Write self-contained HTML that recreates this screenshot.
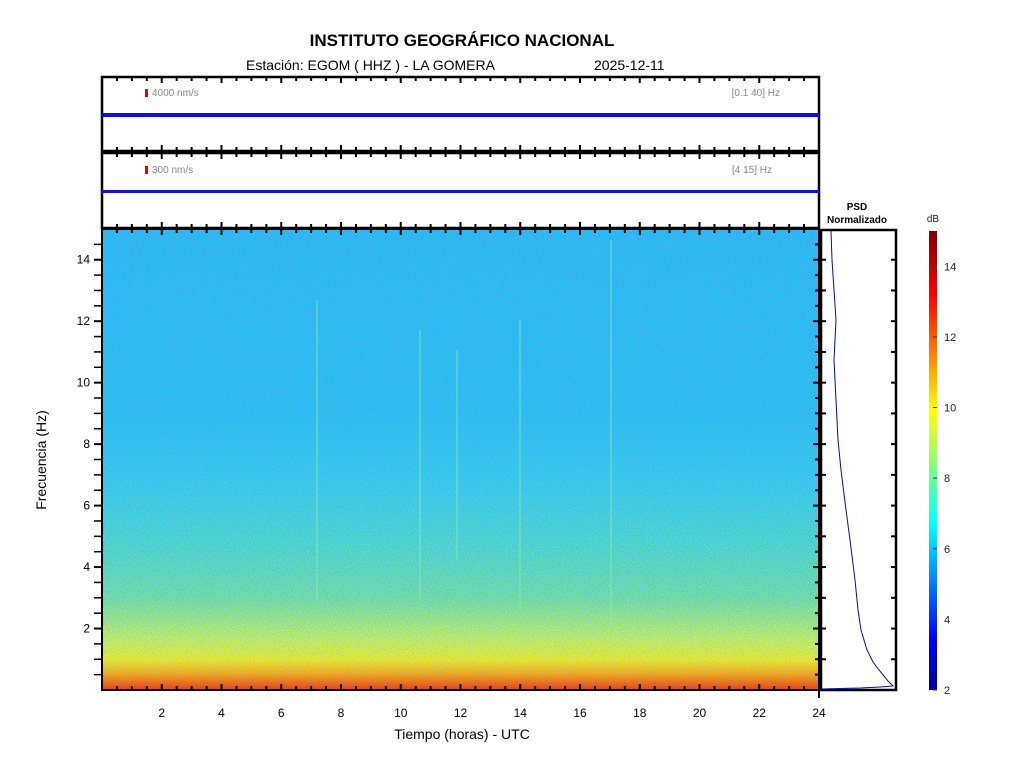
<!DOCTYPE html>
<html><head><meta charset="utf-8"><style>
body{margin:0;background:#fff;}
svg{display:block;font-family:"Liberation Sans",Arial,sans-serif;}
</style></head><body>
<svg id="s" width="1024" height="768" viewBox="0 0 1024 768" xmlns="http://www.w3.org/2000/svg">
<defs>
<linearGradient id="sg" x1="0" y1="1" x2="0" y2="0">
<stop offset="0" stop-color="#f03a10"/>
<stop offset="0.015" stop-color="#f46a10"/>
<stop offset="0.035" stop-color="#f8a818"/>
<stop offset="0.065" stop-color="#f0ec28"/>
<stop offset="0.11" stop-color="#c8f060"/>
<stop offset="0.2" stop-color="#78e2a0"/>
<stop offset="0.32" stop-color="#50dcc8"/>
<stop offset="0.45" stop-color="#38d0ec"/>
<stop offset="0.6" stop-color="#28c4f0"/>
<stop offset="1" stop-color="#24c0f2"/>
</linearGradient>
<linearGradient id="cb" x1="0" y1="1" x2="0" y2="0">
<stop offset="0" stop-color="#00008f"/>
<stop offset="0.11" stop-color="#0000ff"/>
<stop offset="0.36" stop-color="#00ffff"/>
<stop offset="0.61" stop-color="#ffff00"/>
<stop offset="0.86" stop-color="#ff0000"/>
<stop offset="1" stop-color="#800000"/>
</linearGradient>
<linearGradient id="nm" x1="0" y1="1" x2="0" y2="0">
<stop offset="0" stop-color="#fff" stop-opacity="0.2"/>
<stop offset="0.3" stop-color="#fff" stop-opacity="0.6"/>
<stop offset="1" stop-color="#fff" stop-opacity="1"/>
</linearGradient>
<mask id="mk"><rect x="102" y="229" width="717" height="461" fill="url(#nm)"/></mask>
<filter id="nz" x="0" y="0" width="100%" height="100%">
<feTurbulence type="fractalNoise" baseFrequency="0.95" numOctaves="1" seed="3"/>
<feColorMatrix values="0 0 0 0 0.06  0 0 0 0 0.38  0 0 0 0 0.85  3.5 0 0 0 -1.45"/>
</filter>
</defs>
<text x="462" y="46" font-size="17" font-weight="bold" text-anchor="middle">INSTITUTO GEOGRÁFICO NACIONAL</text>
<text x="246" y="70" font-size="14">Estación:  EGOM ( HHZ ) - LA GOMERA</text>
<text x="594" y="70" font-size="14">2025-12-11</text>
<rect x="102" y="77" width="717" height="74" fill="#fff" stroke="#000" stroke-width="2.5"/>
<rect x="102" y="153" width="717" height="75" fill="#fff" stroke="#000" stroke-width="2.5"/>
<rect x="145" y="89" width="3" height="8" fill="#e00"/>
<text x="152" y="96" font-size="10" fill="#888">4000 nm/s</text>
<text x="780" y="96" font-size="10" fill="#888" text-anchor="end">[0.1 40] Hz</text>
<rect x="102" y="113" width="717" height="4" fill="#1010e0"/>
<rect x="145" y="166" width="3" height="8" fill="#e00"/>
<text x="152" y="173" font-size="10" fill="#888">300 nm/s</text>
<text x="772" y="173" font-size="10" fill="#888" text-anchor="end">[4 15] Hz</text>
<rect x="102" y="190" width="717" height="3" fill="#1010e0"/>
<rect x="102" y="229" width="717" height="461" fill="url(#sg)"/>
<g mask="url(#mk)"><rect x="102" y="229" width="717" height="461" filter="url(#nz)"/></g>
<g stroke="#a0f0a0" stroke-width="2" opacity="0.35">
<line x1="317" y1="300" x2="317" y2="600"/><line x1="420" y1="330" x2="420" y2="600"/>
<line x1="520" y1="320" x2="520" y2="610"/><line x1="611" y1="240" x2="611" y2="620"/>
<line x1="457" y1="350" x2="457" y2="560"/>
</g>
<rect x="102" y="229" width="717" height="461" fill="none" stroke="#000" stroke-width="2"/>
<text x="857" y="210" font-size="10" font-weight="bold" text-anchor="middle">PSD</text>
<text x="857" y="223" font-size="10" font-weight="bold" text-anchor="middle">Normalizado</text>
<rect x="821" y="230" width="75" height="460" fill="#fff" stroke="#000" stroke-width="2.5"/>
<polyline fill="none" stroke="#0010a0" stroke-width="1" points="831,231 832,260 834,290 836,320 834,360 836,400 838,440 841,470 846,510 850,540 855,580 858,610 861,630 867,650 873,662 879,670 884,676 888,681 893,686 880,687 860,688 821,689"/>
<rect x="929" y="231" width="8" height="459" fill="url(#cb)"/>
<text x="933" y="222" font-size="10" text-anchor="middle" fill="#222">dB</text>
<g id="g"></g>
<text x="462" y="739" font-size="14" text-anchor="middle">Tiempo (horas) - UTC</text>
<text transform="translate(46,460) rotate(-90)" font-size="14" text-anchor="middle">Frecuencia  (Hz)</text>
</svg>
<script>
var g=document.getElementById('g'),h='';
function X(t){return 102+t*717/24;}
for(var i=1;i<48;i++){var t=i/2,x=X(t),maj=(i%4==0);
[[77,1],[151,-1],[153,1],[228,-1],[229,1]].forEach(function(p){h+='<line x1="'+x+'" x2="'+x+'" y1="'+p[0]+'" y2="'+(p[0]+p[1]*(maj?6:4))+'" stroke="#000" stroke-width="2"/>';});
h+='<line x1="'+x+'" x2="'+x+'" y1="690" y2="'+(690-(maj?6:4))+'" stroke="#000" stroke-width="2"/>';
if(maj)h+='<text x="'+x+'" y="717" font-size="12" text-anchor="middle">'+t+'</text>';}
h+='<line x1="819" x2="819" y1="690" y2="698" stroke="#000" stroke-width="2"/><text x="819" y="717" font-size="12" text-anchor="middle">24</text>';
for(var f=0.5;f<15;f+=0.5){var y=690-f*461/15,maj=(f%2==0);
h+='<line x1="94" x2="102" y1="'+y+'" y2="'+y+'" stroke="#000" stroke-width="'+(maj?2:1.5)+'"/>';
h+='<line x1="819" x2="'+(819-(maj?6:4))+'" y1="'+y+'" y2="'+y+'" stroke="#000" stroke-width="2"/>';
if(f%1==0){h+='<line x1="821" x2="826" y1="'+y+'" y2="'+y+'" stroke="#000" stroke-width="2"/><line x1="896" x2="891" y1="'+y+'" y2="'+y+'" stroke="#000" stroke-width="2"/>';}
if(maj)h+='<text x="90" y="'+(y+4)+'" font-size="12" text-anchor="end">'+f+'</text>';}
for(var d=2;d<=14;d+=2){var y=690-(d-2)*459/13;
h+='<line x1="937" x2="933" y1="'+y+'" y2="'+y+'" stroke="#333"/><text x="944" y="'+(y+4)+'" font-size="11" fill="#222">'+d+'</text>';}
g.innerHTML=h;
</script>
</body></html>
